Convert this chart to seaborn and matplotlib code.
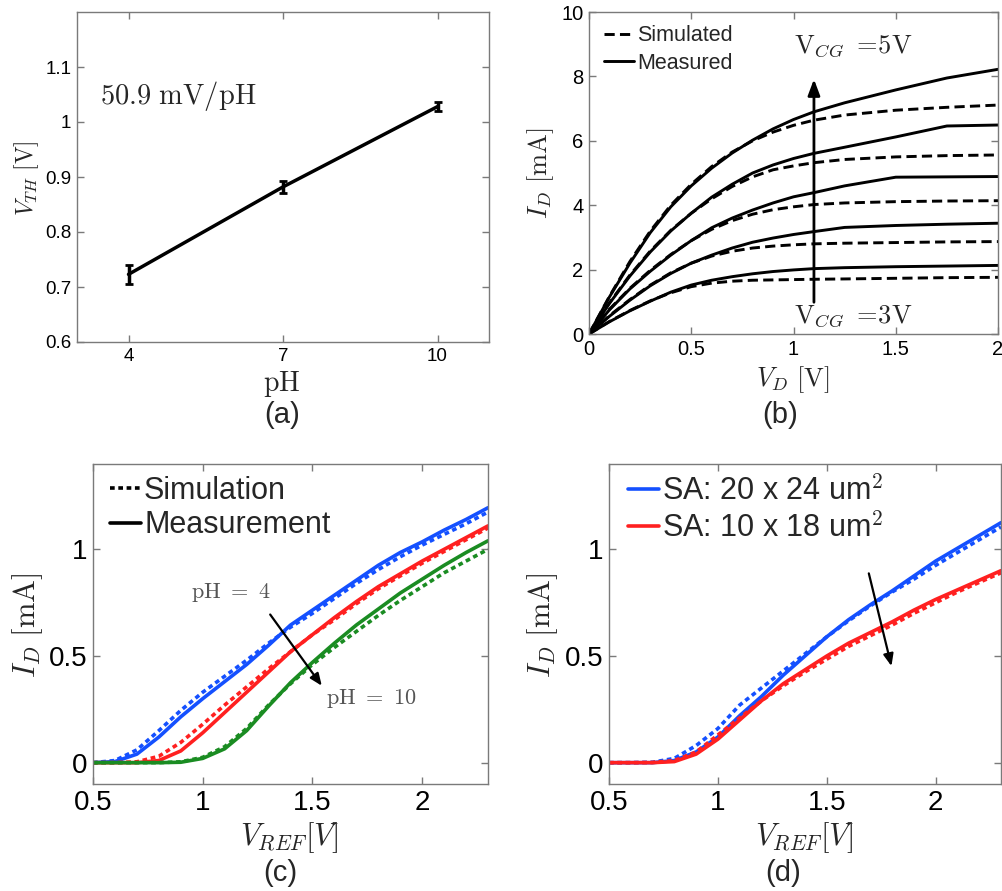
import numpy as np
import pandas as pd
import matplotlib
matplotlib.use("Agg")
import matplotlib.pyplot as plt
from matplotlib.lines import Line2D
import seaborn as sns

# ---------------- data ----------------
# (a) threshold voltage vs pH
ph_vals = [4, 7, 10]
vth_vals = [0.723, 0.882, 1.028]
vth_err = [0.017, 0.011, 0.008]

# (b) I_D - V_D curves (VCG = 3 .. 5 V)
vd = [0, 0.1, 0.2, 0.3, 0.4, 0.5, 0.6, 0.7, 0.8, 0.9, 1.0, 1.1, 1.25, 1.5, 1.75, 2.0]
meas_b = [
    [0, 0.38, 0.72, 1.02, 1.30, 1.52, 1.67, 1.78, 1.87, 1.94, 1.99, 2.03, 2.06, 2.09, 2.11, 2.13],
    [0, 0.55, 1.05, 1.50, 1.88, 2.20, 2.45, 2.67, 2.85, 2.98, 3.09, 3.18, 3.31, 3.37, 3.41, 3.44],
    [0, 0.75, 1.40, 1.95, 2.45, 2.90, 3.30, 3.60, 3.85, 4.07, 4.26, 4.39, 4.60, 4.87, 4.88, 4.89],
    [0, 0.95, 1.80, 2.55, 3.20, 3.75, 4.25, 4.65, 5.00, 5.25, 5.45, 5.61, 5.80, 6.12, 6.46, 6.49],
    [0, 1.15, 2.20, 3.15, 3.95, 4.60, 5.15, 5.62, 6.02, 6.37, 6.66, 6.90, 7.18, 7.58, 7.95, 8.22],
]
sim_b = [
    [0, 0.39, 0.73, 1.03, 1.28, 1.47, 1.58, 1.64, 1.67, 1.68, 1.69, 1.70, 1.71, 1.73, 1.75, 1.76],
    [0, 0.57, 1.07, 1.52, 1.90, 2.20, 2.42, 2.57, 2.67, 2.73, 2.77, 2.80, 2.82, 2.84, 2.86, 2.87],
    [0, 0.77, 1.42, 1.98, 2.47, 2.90, 3.25, 3.52, 3.72, 3.86, 3.95, 4.02, 4.07, 4.11, 4.13, 4.14],
    [0, 0.97, 1.83, 2.58, 3.22, 3.75, 4.20, 4.58, 4.88, 5.10, 5.22, 5.32, 5.42, 5.50, 5.54, 5.56],
    [0, 1.17, 2.25, 3.20, 4.00, 4.65, 5.20, 5.65, 6.00, 6.27, 6.48, 6.64, 6.80, 6.95, 7.04, 7.11],
]

# (c) I_D - V_REF for pH 4 / 7 / 10
vref = [0.5, 0.6, 0.7, 0.8, 0.9, 1.0, 1.1, 1.2, 1.3, 1.4, 1.5, 1.6, 1.7, 1.8, 1.9, 2.0, 2.1, 2.2, 2.3]
c_meas_ph4 = [0, 0.005, 0.04, 0.12, 0.215, 0.30, 0.38, 0.46, 0.55, 0.645, 0.715, 0.785, 0.855, 0.925, 0.985, 1.035, 1.09, 1.14, 1.195]
c_sim_ph4 = [0, 0.01, 0.06, 0.15, 0.245, 0.33, 0.405, 0.48, 0.56, 0.635, 0.70, 0.77, 0.84, 0.905, 0.965, 1.02, 1.07, 1.12, 1.175]
c_meas_ph7 = [0, 0, 0, 0.01, 0.055, 0.14, 0.235, 0.33, 0.425, 0.52, 0.60, 0.68, 0.755, 0.825, 0.885, 0.945, 1.0, 1.055, 1.11]
c_sim_ph7 = [0, 0, 0.004, 0.03, 0.095, 0.18, 0.27, 0.355, 0.44, 0.52, 0.60, 0.67, 0.745, 0.815, 0.875, 0.935, 0.99, 1.045, 1.10]
c_meas_ph10 = [0, 0, 0, 0, 0.002, 0.02, 0.065, 0.15, 0.265, 0.375, 0.47, 0.56, 0.645, 0.72, 0.795, 0.86, 0.925, 0.985, 1.04]
c_sim_ph10 = [0, 0, 0, 0, 0.004, 0.025, 0.075, 0.16, 0.27, 0.37, 0.46, 0.54, 0.615, 0.69, 0.76, 0.825, 0.89, 0.945, 1.0]

# (d) I_D - V_REF for two sensing areas
d_meas_big = [0, 0, 0, 0.01, 0.05, 0.12, 0.22, 0.31, 0.41, 0.50, 0.59, 0.67, 0.74, 0.805, 0.875, 0.945, 1.005, 1.065, 1.125]
d_sim_big = [0, 0, 0.002, 0.02, 0.08, 0.16, 0.27, 0.35, 0.43, 0.51, 0.59, 0.665, 0.735, 0.80, 0.86, 0.925, 0.985, 1.045, 1.105]
d_meas_small = [0, 0, 0, 0.005, 0.04, 0.11, 0.20, 0.29, 0.37, 0.435, 0.50, 0.56, 0.61, 0.66, 0.715, 0.765, 0.81, 0.855, 0.90]
d_sim_small = [0, 0, 0.001, 0.01, 0.05, 0.13, 0.21, 0.29, 0.36, 0.425, 0.485, 0.545, 0.595, 0.645, 0.70, 0.75, 0.80, 0.845, 0.89]

legend_b = ["Simulated", "Measured"]
legend_c = ["Simulation", "Measurement"]
legend_d = ["SA: 20 x 24 um$^{\\mathsf{2}}$", "SA: 10 x 18 um$^{\\mathsf{2}}$"]

# ---------------- style ----------------
sns.set_theme(style="white")
plt.rcParams["font.family"] = ["Liberation Sans", "DejaVu Sans"]
plt.rcParams["mathtext.fontset"] = "cm"
plt.rcParams["axes.edgecolor"] = "#7a7a7a"
plt.rcParams["axes.linewidth"] = 1.0

BLUE = "#1450ff"
RED = "#ff2020"
GREEN = "#1a8c22"
W, H = 1002, 891

fig = plt.figure(figsize=(W / 100, H / 100), dpi=100)


def box(l, t, r, b):
    return [l / W, 1 - b / H, (r - l) / W, (b - t) / H]


def style_axes(ax, fs):
    ax.tick_params(direction="in", length=5, width=1, color="#7a7a7a",
                   top=True, right=True, bottom=True, left=True,
                   labelsize=fs, labelcolor="black", pad=4)
    for s in ax.spines.values():
        s.set_color("#7a7a7a")
        s.set_linewidth(1.0)


def place_labels(ax, xl, yl, xy_x, xy_y, fsx, fsy):
    ax.set_xlabel(xl, fontsize=fsx, va="center", ha="center")
    ax.set_ylabel(yl, fontsize=fsy, va="center", ha="center")
    ax.xaxis.set_label_coords(xy_x[0] / W, 1 - xy_x[1] / H, transform=fig.transFigure)
    ax.yaxis.set_label_coords(xy_y[0] / W, 1 - xy_y[1] / H, transform=fig.transFigure)


# ---------------- (a) ----------------
axa = fig.add_axes(box(77, 12, 489, 342))
sns.lineplot(x=ph_vals, y=vth_vals, ax=axa, color="black", linewidth=2.5)
axa.errorbar(ph_vals, vth_vals, yerr=vth_err, fmt="none", ecolor="black",
             elinewidth=2.5, capsize=3, capthick=2.0)
axa.set_xlim(3, 11)
axa.set_ylim(0.6, 1.2)
axa.set_xticks([4, 7, 10])
axa.set_yticks([0.6, 0.7, 0.8, 0.9, 1.0, 1.1])
axa.set_yticklabels(["0.6", "0.7", "0.8", "0.9", "1", "1.1"])
style_axes(axa, 13.5)
axa.text(100 / W, 1 - 96 / H, r"$50.9\ \mathrm{mV/pH}$", transform=fig.transFigure,
         fontsize=20.5, va="center", ha="left")
place_labels(axa, r"$\mathrm{pH}$", r"$V_{TH}\ [\mathrm{V}]$", (282, 384), (27, 178), 20, 17)

# ---------------- (b) ----------------
axb = fig.add_axes(box(589, 12, 998, 334))
dash_b = (0, (3.5, 1.8))
for m, s in zip(meas_b, sim_b):
    sns.lineplot(x=vd, y=s, ax=axb, color="black", linewidth=2.1, linestyle=dash_b, estimator=None)
    sns.lineplot(x=vd, y=m, ax=axb, color="black", linewidth=2.1, estimator=None)
axb.set_xlim(0, 2)
axb.set_ylim(0, 10)
axb.set_xticks([0, 0.5, 1, 1.5, 2])
axb.set_xticklabels(["0", "0.5", "1", "1.5", "2"])
axb.set_yticks([0, 2, 4, 6, 8, 10])
style_axes(axb, 14.5)
axb.annotate("", xy=(1.1, 8.0), xytext=(1.1, 0.9),
             arrowprops=dict(arrowstyle="-|>,head_length=0.8,head_width=0.3", color="black", lw=2.0))
axb.text(1.0, 8.95, r"$\mathrm{V}_{CG}\ =\!\mathrm{5V}$", fontsize=19, va="center", ha="left")
axb.text(1.0, 0.55, r"$\mathrm{V}_{CG}\ =\!\mathrm{3V}$", fontsize=19, va="center", ha="left")
hb = [Line2D([], [], color="black", lw=2.1, linestyle=dash_b),
      Line2D([], [], color="black", lw=2.1)]
axb.legend(hb, legend_b, loc="upper left", bbox_to_anchor=(0.0, 1.005), frameon=False,
           fontsize=15.5, handlelength=1.4, handletextpad=0.15, labelspacing=0.3,
           borderaxespad=0.3)
place_labels(axb, r"$V_D\ [\mathrm{V}]$", r"$I_D\ [\mathrm{mA}]$", (793, 380), (541, 173), 19, 19)

# ---------------- (c) ----------------
axc = fig.add_axes(box(93, 464, 488, 784))
dot = (0, (1.3, 1.0))
for meas, sim, col in [(c_meas_ph4, c_sim_ph4, BLUE), (c_meas_ph7, c_sim_ph7, RED),
                       (c_meas_ph10, c_sim_ph10, GREEN)]:
    sns.lineplot(x=vref, y=sim, ax=axc, color=col, linewidth=2.6, linestyle=dot, estimator=None)
    sns.lineplot(x=vref, y=meas, ax=axc, color=col, linewidth=2.6, estimator=None)
axc.set_xlim(0.5, 2.3)
axc.set_ylim(-0.1, 1.4)
axc.set_xticks([0.5, 1, 1.5, 2])
axc.set_xticklabels(["0.5", "1", "1.5", "2"])
axc.set_yticks([0, 0.5, 1])
axc.set_yticklabels(["0", "0.5", "1"])
style_axes(axc, 20)
axc.annotate("", xy=(1.55, 0.35), xytext=(1.30, 0.705),
             arrowprops=dict(arrowstyle="-|>,head_length=0.6,head_width=0.25", color="black", lw=1.6))
axc.text(1.13, 0.80, r"$\mathrm{pH}\ =\ 4$", fontsize=16, color="#555555", ha="center", va="center")
axc.text(1.56, 0.30, r"$\mathrm{pH}\ =\ 10$", fontsize=16, color="#555555", ha="left", va="center")
hc = [Line2D([], [], color="black", lw=2.6, linestyle=dot), Line2D([], [], color="black", lw=2.6)]
axc.legend(hc, legend_c, loc="upper left", bbox_to_anchor=(-0.01, 1.03), frameon=False,
           fontsize=22, handlelength=1.0, handletextpad=0.1, labelspacing=0.15,
           borderaxespad=0.3)
place_labels(axc, r"$V_{REF}[V]$", r"$I_D\ [\mathrm{mA}]$", (290, 838), (28, 625), 22, 22)

# ---------------- (d) ----------------
axd = fig.add_axes(box(609, 464, 1001, 784))
for meas, sim, col in [(d_meas_big, d_sim_big, BLUE), (d_meas_small, d_sim_small, RED)]:
    sns.lineplot(x=vref, y=sim, ax=axd, color=col, linewidth=2.6, linestyle=dot, estimator=None)
    sns.lineplot(x=vref, y=meas, ax=axd, color=col, linewidth=2.6, estimator=None)
axd.set_xlim(0.5, 2.3)
axd.set_ylim(-0.1, 1.4)
axd.set_xticks([0.5, 1, 1.5, 2])
axd.set_xticklabels(["0.5", "1", "1.5", "2"])
axd.set_yticks([0, 0.5, 1])
axd.set_yticklabels(["0", "0.5", "1"])
style_axes(axd, 20)
axd.annotate("", xy=(1.80, 0.44), xytext=(1.69, 0.90),
             arrowprops=dict(arrowstyle="-|>,head_length=0.6,head_width=0.25", color="black", lw=1.6))
hd = [Line2D([], [], color=BLUE, lw=2.6), Line2D([], [], color=RED, lw=2.6)]
axd.legend(hd, legend_d, loc="upper left", bbox_to_anchor=(-0.005, 1.03), frameon=False,
           fontsize=22, handlelength=1.0, handletextpad=0.1, labelspacing=0.2,
           borderaxespad=0.3)
place_labels(axd, r"$V_{REF}[V]$", r"$I_D\ [\mathrm{mA}]$", (805, 838), (543, 625), 22, 22)

# ---------------- panel captions ----------------
for txt, x, y in [("(a)", 282, 415), ("(b)", 780, 415), ("(c)", 280, 873), ("(d)", 783, 873)]:
    fig.text(x / W, 1 - y / H, txt, fontsize=21, ha="center", va="center")

fig.savefig("out.png", dpi=100)
